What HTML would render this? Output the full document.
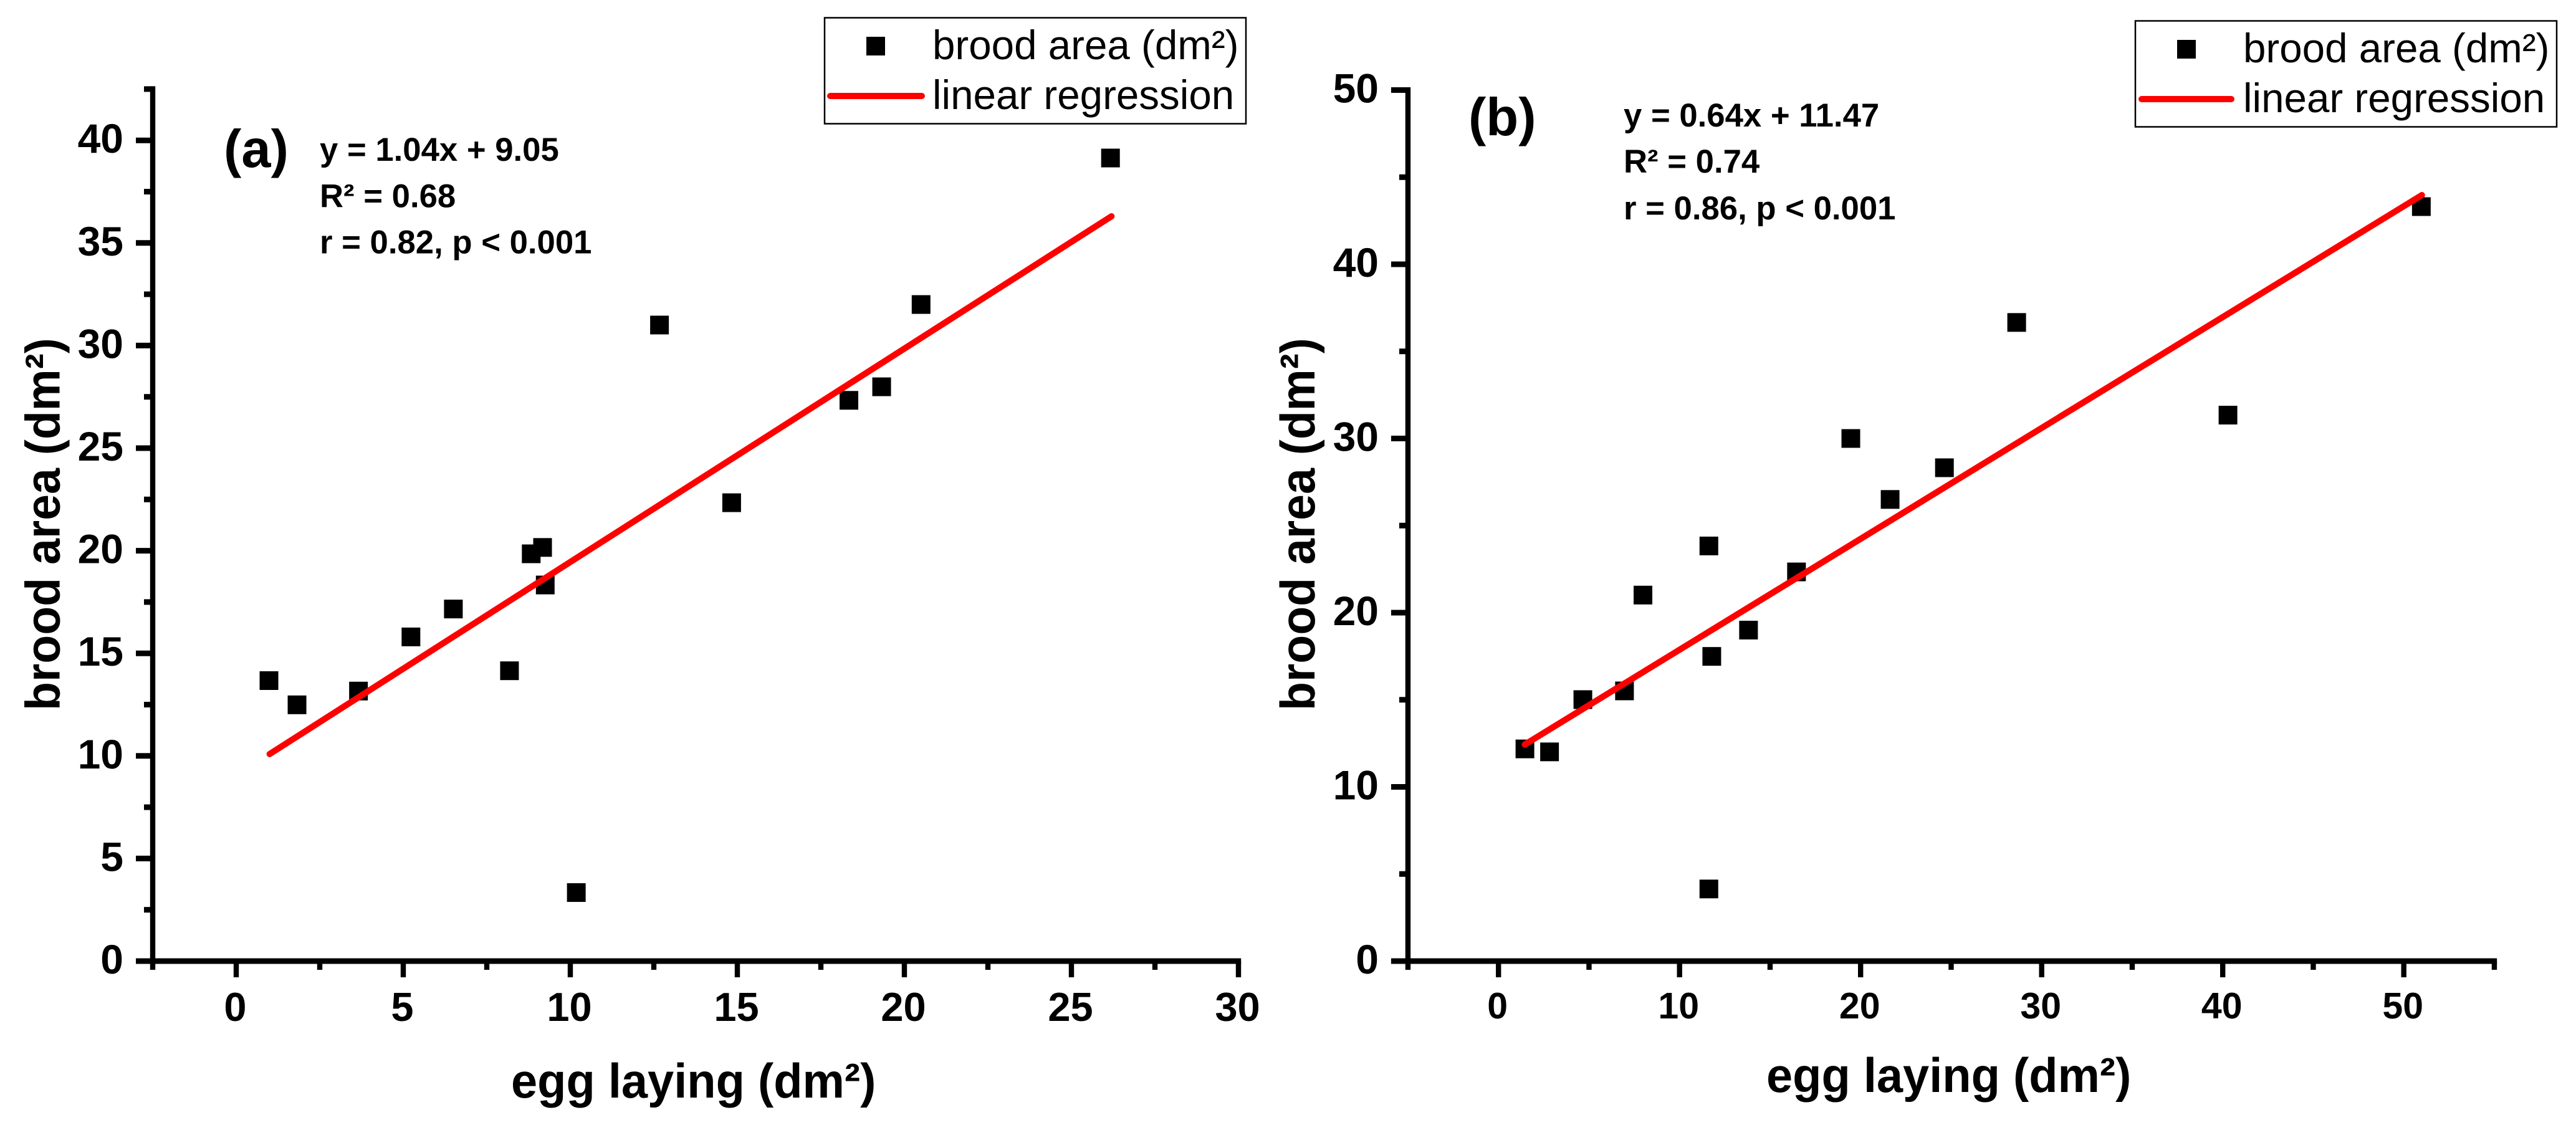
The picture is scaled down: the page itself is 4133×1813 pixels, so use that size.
<!DOCTYPE html>
<html lang="en">
<head>
<meta charset="utf-8">
<title>Brood area vs egg laying</title>
<style>
html,body{margin:0;padding:0;background:#fff;}
body{width:4133px;height:1813px;overflow:hidden;}
svg{display:block;}
text{font-family:"Liberation Sans",Arial,sans-serif;fill:#000;}
.b{font-weight:bold;}
</style>
</head>
<body>
<svg id="chart" xmlns="http://www.w3.org/2000/svg" width="4133" height="1813" viewBox="0 0 4133 1813">
  <rect x="0" y="0" width="4133" height="1813" fill="#fff"/>

  <g id="panel-a">
    <text class="b" x="359" y="268" font-size="85">(a)</text>
    <text class="b" x="513" y="258" font-size="52.7">y = 1.04x + 9.05</text>
    <text class="b" x="513" y="332.5" font-size="52.7">R² = 0.68</text>
    <text class="b" x="513" y="406.5" font-size="52.7">r = 0.82, p &lt; 0.001</text>
    <text class="b" transform="translate(95.5,1140) rotate(-90) scale(0.965,1)" font-size="78">brood area (dm²)</text>
    <text class="b" transform="translate(820,1761) scale(0.972,1)" font-size="78">egg laying (dm²)</text>
  </g>

  <g id="panel-b">
    <text class="b" x="2356" y="217" font-size="85">(b)</text>
    <text class="b" x="2605" y="203" font-size="52.7">y = 0.64x + 11.47</text>
    <text class="b" x="2605" y="277" font-size="52.7">R² = 0.74</text>
    <text class="b" x="2605" y="352" font-size="52.7">r = 0.86, p &lt; 0.001</text>
    <text class="b" transform="translate(2109,1140) rotate(-90) scale(0.965,1)" font-size="78">brood area (dm²)</text>
    <text class="b" transform="translate(2834,1752) scale(0.972,1)" font-size="78">egg laying (dm²)</text>
  </g>

  <g>
    <rect x="1323" y="28.5" width="676" height="170" fill="#fff" stroke="#000" stroke-width="2.5"/>
    <rect x="1390" y="59" width="30" height="30" fill="#000"/>
    <line x1="1332" y1="154" x2="1479" y2="154" stroke="#f00" stroke-width="10" stroke-linecap="round"/>
    <text x="1496" y="95" font-size="65.5">brood area (dm²)</text>
    <text x="1496" y="175" font-size="65.5">linear regression</text>
  </g>

  <g>
    <rect x="3426" y="33.5" width="676" height="170" fill="#fff" stroke="#000" stroke-width="2.5"/>
    <rect x="3493" y="64" width="30" height="30" fill="#000"/>
    <line x1="3436" y1="159" x2="3580" y2="159" stroke="#f00" stroke-width="10" stroke-linecap="round"/>
    <text x="3599" y="100" font-size="65.5">brood area (dm²)</text>
    <text x="3599" y="180" font-size="65.5">linear regression</text>
  </g>
</svg>

<script>
// Panel (a) data
const aEggLaying = [0.98, 1.82, 3.66, 5.23, 6.50, 8.18, 8.83, 9.17, 9.25, 10.18, 12.67, 14.83, 18.34, 19.32, 20.50, 26.17];
const aBroodArea = [13.67, 12.49, 13.16, 15.80, 17.16, 14.15, 19.85, 20.16, 18.33, 3.34, 31.00, 22.34, 27.33, 27.99, 32.00, 39.14];
const aFitX = [1.0, 26.2];
const aFitY = [10.09, 36.3];
const aXMajor = [0, 5, 10, 15, 20, 25, 30];
const aXMinor = [-2.5, 2.5, 7.5, 12.5, 17.5, 22.5, 27.5];
const aYMajor = [0, 5, 10, 15, 20, 25, 30, 35, 40];
const aYMinor = [2.5, 7.5, 12.5, 17.5, 22.5, 27.5, 32.5, 37.5, 42.5];

// Panel (b) data
const bEggLaying = [1.46, 2.82, 4.66, 6.96, 7.98, 11.62, 11.62, 11.78, 13.81, 16.46, 19.46, 21.63, 24.63, 28.62, 40.29, 50.97];
const bBroodArea = [12.18, 12.01, 15.01, 15.51, 21.01, 4.14, 23.83, 17.49, 19.00, 22.34, 30.00, 26.50, 28.32, 36.66, 31.34, 43.31];
const bFitX = [1.45, 51.0];
const bFitY = [12.43, 43.97];
const bXMajor = [0, 10, 20, 30, 40, 50];
const bXMinor = [-5, 5, 15, 25, 35, 45, 55];
const bYMajor = [0, 10, 20, 30, 40, 50];
const bYMinor = [5, 15, 25, 35, 45];

const NS = 'http://www.w3.org/2000/svg';

function mk(parent, tag, attrs, txt) {
  const el = document.createElementNS(NS, tag);
  for (const k in attrs) el.setAttribute(k, attrs[k]);
  if (txt !== undefined) el.textContent = txt;
  parent.appendChild(el);
  return el;
}

function drawPanel(p) {
  const root = document.getElementById('panel-' + p.id);
  const sx = v => p.x0 + v * p.xUnit;
  const sy = v => p.y0 - v * p.yUnit;
  const xMin = Math.min(...p.xMinor, ...p.xMajor);
  const xMax = Math.max(...p.xMinor, ...p.xMajor);
  const yMax = Math.max(...p.yMinor, ...p.yMajor);
  const W = 8.4;
  const T = 9;

  const yAxis = mk(root, 'line', {x1: sx(xMin), x2: sx(xMin), y1: sy(yMax) - T / 2, y2: p.y0 + T / 2, stroke: '#000', 'stroke-width': W});
  
  

  const xAxis = mk(root, 'line', {x1: sx(xMin) - 27, x2: sx(xMax) + W / 2, y1: p.y0, y2: p.y0, stroke: '#000', 'stroke-width': T});
  
  

  p.xMajor.forEach(v => {
    const t = mk(root, 'line', {x1: sx(v), x2: sx(v), y1: p.y0, y2: p.y0 + 26, stroke: '#000', 'stroke-width': W});
    
    
    const l = mk(root, 'text', {x: sx(v) - 1.5, y: p.xLabelY, 'font-size': p.xFont, 'text-anchor': 'middle', 'font-weight': 'bold'}, String(v));
    
    
  });
  p.xMinor.forEach(v => {
    const t = mk(root, 'line', {x1: sx(v), x2: sx(v), y1: p.y0, y2: p.y0 + 14, stroke: '#000', 'stroke-width': W});
    
    
  });
  p.yMajor.forEach(v => {
    const t = mk(root, 'line', {x1: sx(xMin) - 27, x2: sx(xMin), y1: sy(v), y2: sy(v), stroke: '#000', 'stroke-width': T});
    
    
    const l = mk(root, 'text', {x: p.yLabelX, y: sy(v) + 20, 'font-size': 66, 'text-anchor': 'end', 'font-weight': 'bold'}, String(v));
    
    
  });
  p.yMinor.forEach(v => {
    const t = mk(root, 'line', {x1: sx(xMin) - 14, x2: sx(xMin), y1: sy(v), y2: sy(v), stroke: '#000', 'stroke-width': T});
    
    
  });

  p.xs.forEach((v, i) => {
    const s = mk(root, 'rect', {x: sx(v) - 15, y: sy(p.ys[i]) - 15, width: 30, height: 30, fill: '#000'});
    
    
  });

  const fit = mk(root, 'line', {x1: sx(p.fitX[0]), y1: sy(p.fitY[0]), x2: sx(p.fitX[1]), y2: sy(p.fitY[1]), stroke: '#f00', 'stroke-width': 10, 'stroke-linecap': 'round'});
  
  
}

drawPanel({id: 'a', x0: 379, xUnit: 53.6, y0: 1542, yUnit: 32.92, xs: aEggLaying, ys: aBroodArea, fitX: aFitX, fitY: aFitY,
  xMajor: aXMajor, xMinor: aXMinor, yMajor: aYMajor, yMinor: aYMinor, xLabelY: 1638, xFont: 65, yLabelX: 198});
drawPanel({id: 'b', x0: 2404.2, xUnit: 29.05, y0: 1542, yUnit: 27.95, xs: bEggLaying, ys: bBroodArea, fitX: bFitX, fitY: bFitY,
  xMajor: bXMajor, xMinor: bXMinor, yMajor: bYMajor, yMinor: bYMinor, xLabelY: 1634, xFont: 59, yLabelX: 2212});
</script>
</body>
</html>
